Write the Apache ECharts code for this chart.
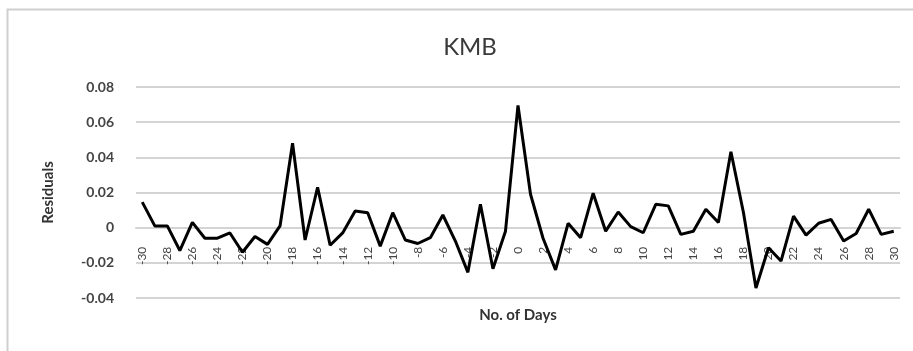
<!DOCTYPE html>
<html>
<head>
<meta charset="utf-8">
<script src="https://cdn.jsdelivr.net/npm/echarts@6/dist/echarts.min.js"></script>
<style>
    html, body { margin: 0; padding: 0; background: #fff; }
    #chart { width: 913px; height: 351px; }
</style>
</head>
<body>
<div id="chart"></div>
<script>
'use strict';

//横轴：事件日 -30 ~ 30
let days = [];
for (let d = -30; d <= 30; d++) days.push(String(d));

//残差，从图上读出来的
let residuals = [
    0.0145, 0.001, 0.001, -0.013, 0.003, -0.006, -0.006, -0.003, -0.014, -0.005,
    -0.0095, 0.001, 0.048, -0.007, 0.023, -0.010, -0.003, 0.0095, 0.0085, -0.0105,
    0.0085, -0.007, -0.009, -0.0057, 0.0072, -0.0076, -0.0254, 0.0133, -0.0234, -0.002,
    0.0695, 0.019, -0.006, -0.024, 0.0025, -0.0057, 0.0196, -0.002, 0.0089, 0.0006,
    -0.0029, 0.0133, 0.0124, -0.0038, -0.002, 0.0105, 0.0029, 0.0432, 0.0086, -0.0343,
    -0.0114, -0.019, 0.0066, -0.0042, 0.0025, 0.0047, -0.0076, -0.0033, 0.0105, -0.0038,
    -0.002
];

//纵轴刻度
let yTicks = [-0.04, -0.02, 0, 0.02, 0.04, 0.06, 0.08];

let chartTitle = 'KMB';
let xName = 'No. of Days';
let yName = 'Residuals';

let gridTop = 87, gridBottom = 53;
let plotH = 351 - gridTop - gridBottom;
//横轴放到 0 那条线上（onZero 不生效，用 offset 往上挪）
let zeroOffset = -plotH * (0 - yTicks[0]) / (yTicks[yTicks.length - 1] - yTicks[0]);

let myChart = echarts.init(document.getElementById('chart'));

let option = {
    backgroundColor: '#fff',
    animation: false,
    title: {
        text: chartTitle,
        left: 465,
        top: 30,
        textAlign: 'center',
        textStyle: {
            fontFamily: 'Lato',
            fontSize: 24,
            fontWeight: 'normal',
            color: '#3a3a3a'
        }
    },
    //外框
    graphic: [{
        type: 'rect',
        shape: { x: 7.5, y: 9.5, width: 920, height: 360 },
        style: { fill: 'none', stroke: '#cfcfcf', lineWidth: 2 },
        silent: true
    }],
    grid: {
        left: 136,
        right: 13,
        top: gridTop,
        bottom: gridBottom,
        outerBoundsMode: 'none',
        containLabel: false
    },
    xAxis: {
        type: 'category',
        data: days,
        boundaryGap: true,
        offset: zeroOffset,
        name: xName,
        nameLocation: 'middle',
        nameGap: 80,
        nameTextStyle: {
            fontFamily: 'Lato',
            fontSize: 15,
            fontWeight: 'bold',
            color: '#333'
        },
        axisLine: { show: true, onZero: false, lineStyle: { color: '#d4d4d4', width: 2 } },
        axisTick: { show: false },
        axisLabel: {
            interval: 1,
            rotate: 90,
            margin: 19,
            fontFamily: 'Lato',
            fontSize: 12,
            color: '#444'
        },
        splitLine: { show: false }
    },
    yAxis: {
        type: 'value',
        min: yTicks[0],
        max: yTicks[yTicks.length - 1],
        interval: 0.02,
        name: yName,
        nameLocation: 'middle',
        nameRotate: 90,
        nameGap: 80,
        nameTextStyle: {
            fontFamily: 'Lato',
            fontSize: 15,
            fontWeight: 'bold',
            color: '#333'
        },
        axisLine: { show: false },
        axisTick: { show: false },
        axisLabel: {
            margin: 22,
            fontFamily: 'Lato',
            fontSize: 14,
            fontWeight: 'bold',
            color: '#444',
            formatter: function (v) {
                return v === 0 ? '0' : v.toFixed(2);
            }
        },
        splitLine: { lineStyle: { color: '#d4d4d4', width: 2 } }
    },
    series: [{
        type: 'line',
        data: residuals,
        symbol: 'none',
        lineStyle: { color: '#000', width: 3 }
    }]
};

myChart.setOption(option);
</script>
</body>
</html>
